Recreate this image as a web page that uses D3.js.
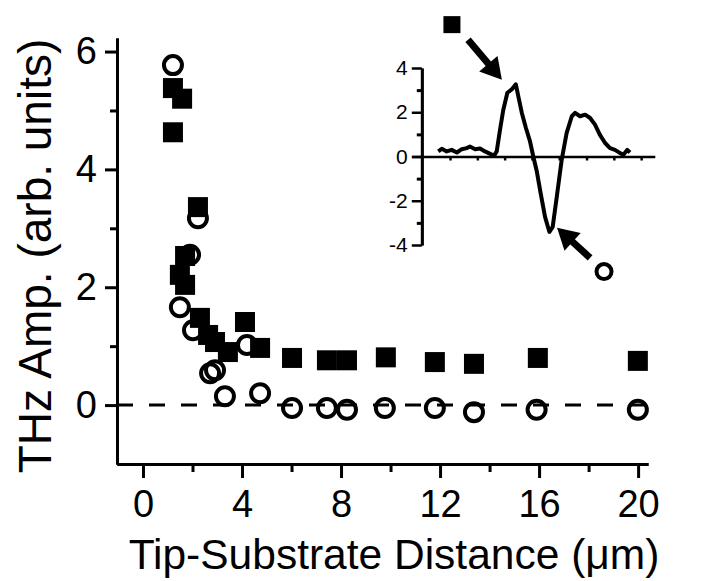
<!DOCTYPE html>
<html lang="en">
<head>
<meta charset="UTF-8">
<title>THz amplitude vs tip-substrate distance</title>
<script src="https://d3js.org/d3.v7.min.js"></script>
<style>
  body { margin: 0; background: #fff; }
  svg { display: block; font-family: "Liberation Sans", Arial, sans-serif; }
  .axis path, .axis line { stroke: #000; stroke-width: 3; }
  .axis text { fill: #000; }
  .zero { stroke: #000; stroke-width: 3; stroke-dasharray: 16 16; }
  .sq { fill: #000; }
  .ci { fill: none; stroke: #000; stroke-width: 4; }
  .wave { fill: none; stroke: #000; stroke-width: 4; stroke-linejoin: round; }
</style>
</head>
<body>
<script>
// filled squares (distance in um, amplitude)
const sqDist = [1.21, 1.58, 1.21, 2.22, 1.70, 1.49, 1.70, 2.30, 2.63, 2.91, 3.43, 4.12, 4.73, 6.02, 7.43, 8.24, 9.81, 11.79, 13.37, 15.95, 19.99];
const sqAmp  = [5.38, 5.20, 4.63, 3.36, 2.53, 2.21, 2.04, 1.48, 1.19, 1.07, 0.90, 1.41, 0.97, 0.80, 0.76, 0.76, 0.81, 0.73, 0.70, 0.80, 0.75];

// open circles
const ciDist = [1.21, 2.22, 1.90, 1.49, 2.02, 2.71, 2.91, 3.31, 4.20, 4.73, 6.02, 7.43, 8.24, 9.77, 11.79, 13.37, 15.90, 19.99];
const ciAmp  = [5.77, 3.17, 2.55, 1.66, 1.27, 0.54, 0.59, 0.15, 1.02, 0.20, -0.05, -0.05, -0.08, -0.05, -0.05, -0.12, -0.08, -0.08];

// inset waveform (arb. time, amplitude)
const waveT = [0.57, 0.70, 0.88, 1.06, 1.25, 1.43, 1.61, 1.73, 1.92, 2.10, 2.28, 2.47, 2.61, 2.71, 2.83, 2.95, 3.10, 3.26, 3.41, 3.50, 3.63, 3.78, 3.93, 4.05, 4.18, 4.32, 4.48, 4.64, 4.76, 4.91, 5.09, 5.27, 5.46, 5.58, 5.76, 5.95, 6.13, 6.31, 6.49, 6.68, 6.86, 7.04, 7.23, 7.35, 7.49, 7.59];
const waveA = [0.23, 0.35, 0.23, 0.30, 0.18, 0.33, 0.38, 0.45, 0.33, 0.36, 0.23, 0.12, 0.03, 0.23, 1.20, 2.10, 2.88, 3.03, 3.26, 2.73, 1.97, 1.29, 0.68, 0.00, -0.68, -1.67, -2.73, -3.41, -3.18, -1.82, -0.15, 1.06, 1.82, 1.97, 1.82, 1.89, 1.74, 1.44, 0.98, 0.61, 0.38, 0.30, 0.15, 0.08, 0.30, 0.18];

const xTicks = [0, 4, 8, 12, 16, 20];
const xMinor = [2, 6, 10, 14, 18];
const yTicks = [0, 2, 4, 6];
const yMinor = [1, 3, 5];
const insetYTicks = [-4, -2, 0, 2, 4];
const insetYMinor = [-3, -1, 1, 3];
const insetXTicks = [1, 2, 3, 4, 5, 6, 7, 8];

// arrow annotations in inset coordinates: [from, to]
const arrows = [[[1.66, 5.28], [2.90, 3.47]], [[6.13, -4.58], [4.92, -3.22]]];
const keySquare = [1.07, 5.96];
const keyCircle = [6.64, -5.20];

const W = 709, H = 581;
const svg = d3.select('body').append('svg').attr('width', W).attr('height', H);

// main scales
const x = d3.scaleLinear().domain([-1.05, 20.4]).range([117, 648]);
const y = d3.scaleLinear().domain([-1, 6.23]).range([464, 38]);

// minor ticks first (shorter)
svg.append('g').attr('class', 'axis')
  .attr('transform', `translate(0,${y(-1)})`)
  .call(d3.axisBottom(x).tickValues(xMinor).tickSize(8).tickSizeOuter(0).tickFormat(''));
svg.append('g').attr('class', 'axis')
  .attr('transform', `translate(${x(-1.05)},0)`)
  .call(d3.axisLeft(y).tickValues(yMinor).tickSize(7).tickSizeOuter(0).tickFormat(''));

const xAxis = svg.append('g').attr('class', 'axis')
  .attr('transform', `translate(0,${y(-1)})`)
  .call(d3.axisBottom(x).tickValues(xTicks).tickSize(14).tickSizeOuter(0).tickPadding(12));
xAxis.selectAll('text').style('font-size', '38px');

const yAxis = svg.append('g').attr('class', 'axis')
  .attr('transform', `translate(${x(-1.05)},0)`)
  .call(d3.axisLeft(y).tickValues(yTicks).tickSize(12).tickSizeOuter(0).tickPadding(8));
yAxis.selectAll('text').style('font-size', '38px');

// axis titles
svg.append('text')
  .attr('x', 394).attr('y', 569)
  .attr('text-anchor', 'middle')
  .style('font-size', '42.5px')
  .text('Tip-Substrate Distance (\u03bcm)');
svg.append('text')
  .attr('transform', 'translate(51,256) rotate(-90)')
  .attr('text-anchor', 'middle')
  .style('font-size', '46px')
  .text('THz Amp. (arb. units)');

// zero line
svg.append('line').attr('class', 'zero')
  .attr('x1', x(-1.05)).attr('x2', x(20.45))
  .attr('y1', y(0)).attr('y2', y(0));

// squares
const sq = 20;
svg.selectAll('.sq').data(d3.range(sqDist.length)).enter().append('rect')
  .attr('class', 'sq')
  .attr('x', i => x(sqDist[i]) - sq / 2)
  .attr('y', i => y(sqAmp[i]) - sq / 2)
  .attr('width', sq).attr('height', sq);

// circles
svg.selectAll('.ci').data(d3.range(ciDist.length)).enter().append('circle')
  .attr('class', 'ci')
  .attr('cx', i => x(ciDist[i]))
  .attr('cy', i => y(ciAmp[i]))
  .attr('r', 9);

// ---- inset ----
const xi = d3.scaleLinear().domain([-0.4, 8.5]).range([411.8, 654.8]);
const yi = d3.scaleLinear().domain([-4, 4]).range([245, 68]);

svg.append('g').attr('class', 'axis')
  .attr('transform', `translate(${xi(-0.4) + 10},0)`)
  .call(d3.axisLeft(yi).tickValues(insetYMinor).tickSize(5).tickSizeOuter(0).tickFormat(''));
const iy = svg.append('g').attr('class', 'axis')
  .attr('transform', `translate(${xi(-0.4) + 10},0)`)
  .call(d3.axisLeft(yi).tickValues(insetYTicks).tickSize(10).tickSizeOuter(0).tickPadding(4)
    .tickFormat(d => d < 0 ? '-' + Math.abs(d) : d));
iy.selectAll('text').style('font-size', '21px');
iy.selectAll('path, line').style('stroke-width', 2.5);

const ix = svg.append('g').attr('class', 'axis')
  .attr('transform', `translate(0,${yi(0)})`)
  .call(d3.axisBottom(xi).tickValues(insetXTicks).tickSize(4).tickSizeOuter(0).tickFormat(''));
ix.selectAll('path, line').style('stroke-width', 2.5);

const wave = d3.line().x(i => xi(waveT[i])).y(i => yi(waveA[i])).curve(d3.curveLinear);
svg.append('path').attr('class', 'wave').attr('d', wave(d3.range(waveT.length)));

// arrows
arrows.forEach(([from, to]) => {
  const p0 = [xi(from[0]), yi(from[1])];
  const p1 = [xi(to[0]), yi(to[1])];
  const dx = p1[0] - p0[0], dy = p1[1] - p0[1];
  const len = Math.hypot(dx, dy);
  const ux = dx / len, uy = dy / len;
  const hl = 21, hw = 12;
  const bx = p1[0] - ux * hl, by = p1[1] - uy * hl;
  svg.append('line')
    .attr('x1', p0[0]).attr('y1', p0[1]).attr('x2', bx + ux * 2).attr('y2', by + uy * 2)
    .attr('stroke', '#000').attr('stroke-width', 7);
  svg.append('polygon')
    .attr('points', [[p1[0], p1[1]], [bx - uy * hw, by + ux * hw], [bx + uy * hw, by - ux * hw]].map(p => p.join(',')).join(' '))
    .attr('fill', '#000');
});

svg.append('rect').attr('class', 'sq')
  .attr('x', xi(keySquare[0]) - 8.5).attr('y', yi(keySquare[1]) - 8.5)
  .attr('width', 17).attr('height', 17);
svg.append('circle').attr('class', 'ci')
  .attr('cx', xi(keyCircle[0])).attr('cy', yi(keyCircle[1])).attr('r', 7.5);
</script>
</body>
</html>
